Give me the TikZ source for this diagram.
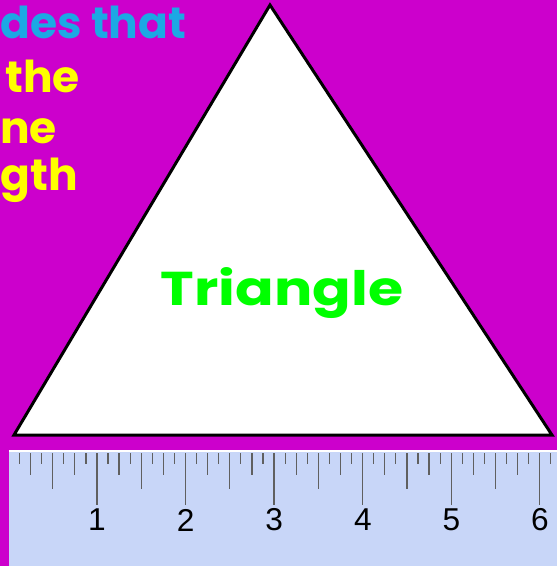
\documentclass[tikz,border=0pt]{standalone}
\usepackage{fontspec}
\setmainfont{Poppins}
\newfontfamily\rulerfont{Liberation Sans}
\usetikzlibrary{positioning}
\definecolor{BgMagenta}{HTML}{CC00CC}
\definecolor{TextSky}{HTML}{1CA8E4}
\definecolor{TextYellow}{HTML}{FFFF00}
\definecolor{TriGreen}{HTML}{00FF00}
\definecolor{RulerBlue}{HTML}{C8D6F8}
\definecolor{TickGrey}{HTML}{606060}

\begin{document}
\begin{tikzpicture}[
 x=0.02cm,y=-0.02cm,
 word/.style={font=\fontsize{25}{30}\selectfont\bfseries,inner sep=0pt,anchor=base west},
 tick/.style={draw=TickGrey,line width=0.7pt},
 num/.style={font=\rulerfont\fontsize{18}{20}\selectfont,text=black,inner sep=0pt}
]
\fill[BgMagenta] (0,0) rectangle (557,566);
\useasboundingbox (0,0) rectangle (557,566);
% words on the left
\node[word,text=TextSky] (w1) at (0,38) {des that};
\node[word,text=TextYellow] (w2) at (5,92) {the};
\node[word,text=TextYellow] (w3) at (0,143) {ne};
\node[word,text=TextYellow] (w4) at (0,190) {gth};
% triangle
\coordinate (apex) at (270,5);
\coordinate (bl) at (14,435);
\coordinate (br) at (552,435);
\draw[fill=white,line width=1.7pt] (apex) -- (bl) -- (br) -- cycle;
\node[text=TriGreen,font=\fontsize{27}{30}\selectfont\bfseries\addfontfeature{FakeStretch=1.2},inner sep=0pt,anchor=base] (lbl) at (282,305) {Triangle};
% ruler
\fill[RulerBlue] (9,452) rectangle (557,566);
\draw[white,line width=1.2pt] (9,451) -- (557,451);
\foreach \i in {1,...,49}{
 \pgfmathtruncatemacro{\r}{mod(\i,8)}
 \pgfmathsetmacro{\len}{\r==0 ? 52 : (\r==4 ? 36 : (mod(\r,2)==0 ? 22 : 11))}
 \draw[tick] (8.4+11.07*\i,453) -- ++(0,\len);
}
\foreach \n in {1,...,6}
 \node[num] (n\n) at (8.4+88.6*\n,520) {\n};
\end{tikzpicture}
\end{document}
